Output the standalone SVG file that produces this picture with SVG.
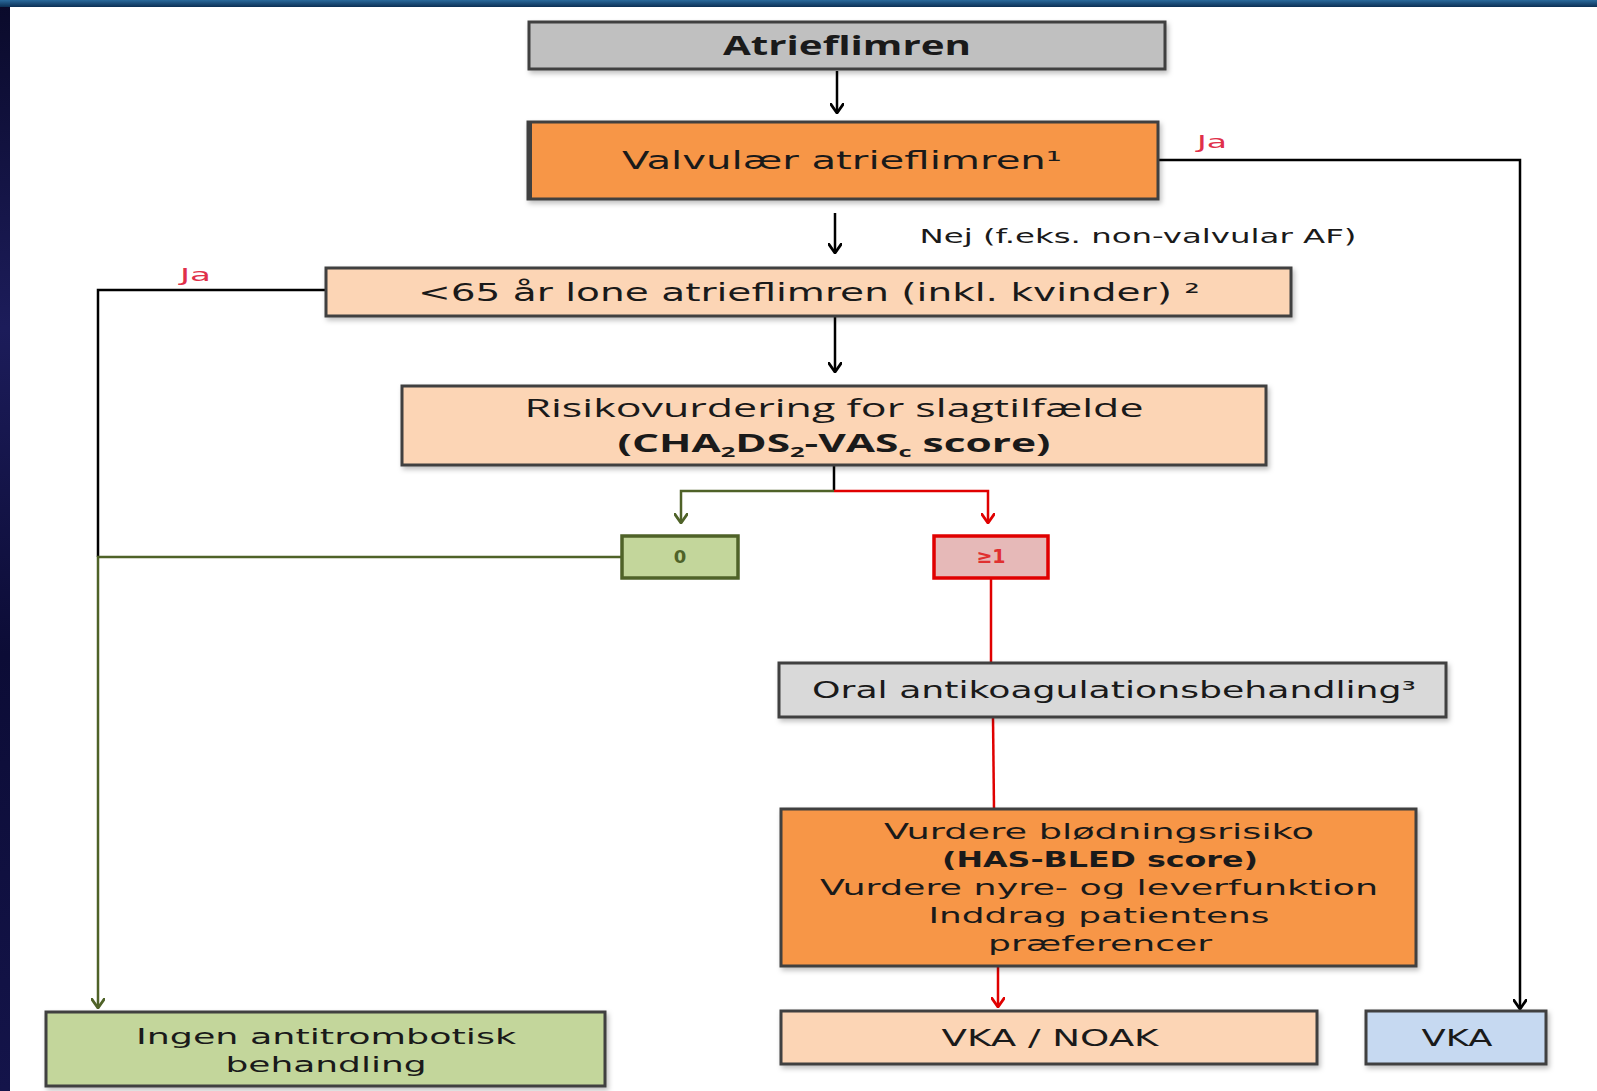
<svg xmlns="http://www.w3.org/2000/svg" width="1597" height="1091" viewBox="0 0 1597 1091">
<defs>
<linearGradient id="topbar" x1="0" y1="0" x2="0" y2="1">
<stop offset="0" stop-color="#2a6a9c"/><stop offset="1" stop-color="#0c2f55"/>
</linearGradient>
<linearGradient id="sidebar" x1="0" y1="0" x2="0" y2="1">
<stop offset="0" stop-color="#0a0a2a"/><stop offset="0.3" stop-color="#1c1c5a"/><stop offset="0.6" stop-color="#0c0c36"/><stop offset="1" stop-color="#14144a"/>
</linearGradient>
<filter id="sh" x="-5%" y="-20%" width="110%" height="140%">
<feDropShadow dx="2" dy="3" stdDeviation="2.5" flood-color="#000" flood-opacity="0.25"/>
</filter>
<marker id="ak" viewBox="0 0 14 11" refX="7" refY="10" markerWidth="14" markerHeight="11" markerUnits="userSpaceOnUse">
<path d="M0,0 L7,10 L14,0" fill="none" stroke="#000" stroke-width="2.8"/>
</marker>
<marker id="ag" viewBox="0 0 14 11" refX="7" refY="10" markerWidth="14" markerHeight="11" markerUnits="userSpaceOnUse">
<path d="M0,0 L7,10 L14,0" fill="none" stroke="#4f6228" stroke-width="2.8"/>
</marker>
<marker id="ar" viewBox="0 0 14 11" refX="7" refY="10" markerWidth="14" markerHeight="11" markerUnits="userSpaceOnUse">
<path d="M0,0 L7,10 L14,0" fill="none" stroke="#e00000" stroke-width="2.8"/>
</marker>
</defs>
<style>
.box{stroke:#3f3f3f;stroke-width:3;filter:url(#sh)}
.t{font-family:"DejaVu Sans","Liberation Sans",sans-serif;fill:#1a1a1a;text-anchor:middle}
.c{font-family:"Open Sans","Liberation Sans",sans-serif;fill:#1a1a1a;text-anchor:middle}
.k{fill:none;stroke:#000;stroke-width:2.5}
.g{fill:none;stroke:#4f6228;stroke-width:2.5}
.r{fill:none;stroke:#e00000;stroke-width:2.5}
.ja{font-family:"DejaVu Sans","Liberation Sans",sans-serif;fill:#e0304a;font-size:17px}
.sub{font-size:15px;baseline-shift:-5px}
</style>
<rect x="0" y="0" width="1597" height="1091" fill="url(#sidebar)"/>
<rect x="0" y="0" width="1597" height="7" fill="url(#topbar)"/>
<rect x="10" y="7" width="1587" height="1084" fill="#ffffff"/>

<g id="connectors">
<line class="k" x1="837" y1="71" x2="837" y2="113" marker-end="url(#ak)"/>
<polyline class="k" points="1158,160 1520,160 1520,1009" marker-end="url(#ak)"/>
<line class="k" x1="835" y1="213" x2="835" y2="253" marker-end="url(#ak)"/>
<line class="k" x1="835" y1="317" x2="835" y2="372" marker-end="url(#ak)"/>
<polyline class="k" points="326,290 98,290 98,557"/>
<polyline class="g" points="622,557 98,557 98,1008" marker-end="url(#ag)"/>
<line class="k" x1="834" y1="466" x2="834" y2="492"/>
<polyline class="g" points="834,491 681,491 681,523" marker-end="url(#ag)"/>
<polyline class="r" points="834,491 988,491 988,523" marker-end="url(#ar)"/>
<line class="r" x1="991" y1="579" x2="991" y2="663"/>
<line class="r" x1="993" y1="718" x2="994" y2="809"/>
<line class="r" x1="998" y1="967" x2="998" y2="1007" marker-end="url(#ar)"/>
<text class="ja" x="1197" y="148" textLength="30" lengthAdjust="spacingAndGlyphs">Ja</text>
<text class="ja" x="180" y="281" textLength="31" lengthAdjust="spacingAndGlyphs">Ja</text>
<text class="t" x="1138" y="243" font-size="20" textLength="437" lengthAdjust="spacingAndGlyphs">Nej (f.eks. non-valvular AF)</text>
</g>

<g id="n-atrieflimren">
<rect class="box" x="529" y="22" width="636" height="47" fill="#c0c0c0"/>
<text class="c" x="847" y="55" font-size="27" font-weight="bold" textLength="248" lengthAdjust="spacingAndGlyphs">Atrieflimren</text>
</g>
<g id="n-valvulaer">
<rect class="box" x="528" y="122" width="630" height="77" fill="#f79646"/>
<rect x="527" y="122" width="5" height="77" fill="#3f3f3f"/>
<text class="t" x="842" y="169" font-size="25" textLength="440" lengthAdjust="spacingAndGlyphs">Valvulær atrieflimren¹</text>
</g>
<g id="n-lone">
<rect class="box" x="326" y="268" width="965" height="48" fill="#fcd5b5"/>
<text class="t" x="809" y="301" font-size="25" textLength="782" lengthAdjust="spacingAndGlyphs">&lt;65 år lone atrieflimren (inkl. kvinder) ²</text>
</g>
<g id="n-risiko">
<rect class="box" x="402" y="386" width="864" height="79" fill="#fcd5b5"/>
<text class="c" x="834" y="417" font-size="26" textLength="619" lengthAdjust="spacingAndGlyphs">Risikovurdering for slagtilfælde</text>
<text class="c" x="834" y="452" font-size="25" font-weight="bold" textLength="433" lengthAdjust="spacingAndGlyphs">(CHA<tspan class="sub">2</tspan>DS<tspan class="sub">2</tspan>-VAS<tspan class="sub">c</tspan> score)</text>
</g>
<g id="n-zero">
<rect x="622" y="536" width="116" height="42" fill="#c3d69b" stroke="#4f6228" stroke-width="3.5"/>
<text x="680" y="563" font-family="DejaVu Sans, sans-serif" font-size="18" font-weight="bold" fill="#4f6228" text-anchor="middle">0</text>
</g>
<g id="n-ge1">
<rect x="934" y="536" width="114" height="42" fill="#e6b9b8" stroke="#e00000" stroke-width="3.5"/>
<text x="991" y="563" font-family="DejaVu Sans, sans-serif" font-size="19" font-weight="bold" fill="#e03030" text-anchor="middle">≥1</text>
</g>
<g id="n-oral">
<rect class="box" x="779" y="663" width="667" height="54" fill="#d9d9d9"/>
<text class="t" x="1114" y="698" font-size="23" textLength="604" lengthAdjust="spacingAndGlyphs">Oral antikoagulationsbehandling³</text>
</g>
<g id="n-vurdere">
<rect class="box" x="781" y="809" width="635" height="157" fill="#f79646"/>
<text class="t" x="1099" y="839" font-size="22" textLength="430" lengthAdjust="spacingAndGlyphs">Vurdere blødningsrisiko</text>
<text class="t" x="1100" y="867" font-size="22" font-weight="bold" textLength="316" lengthAdjust="spacingAndGlyphs">(HAS-BLED score)</text>
<text class="t" x="1099" y="895" font-size="22" textLength="558" lengthAdjust="spacingAndGlyphs">Vurdere nyre- og leverfunktion</text>
<text class="t" x="1099" y="923" font-size="22" textLength="341" lengthAdjust="spacingAndGlyphs">Inddrag patientens</text>
<text class="t" x="1100" y="951" font-size="22" textLength="224" lengthAdjust="spacingAndGlyphs">præferencer</text>
</g>
<g id="n-ingen">
<rect class="box" x="46" y="1012" width="559" height="74" fill="#c3d69b"/>
<text class="t" x="326" y="1044" font-size="22" textLength="380" lengthAdjust="spacingAndGlyphs">Ingen antitrombotisk</text>
<text class="t" x="326" y="1072" font-size="22" textLength="201" lengthAdjust="spacingAndGlyphs">behandling</text>
</g>
<g id="n-vkanoak">
<rect class="box" x="781" y="1011" width="536" height="53" fill="#fcd5b5"/>
<text class="t" x="1050" y="1046" font-size="23" textLength="217" lengthAdjust="spacingAndGlyphs">VKA / NOAK</text>
</g>
<g id="n-vka">
<rect class="box" x="1366" y="1011" width="180" height="53" fill="#c6d9f1"/>
<text class="t" x="1457" y="1046" font-size="23" textLength="71" lengthAdjust="spacingAndGlyphs">VKA</text>
</g>
</svg>
